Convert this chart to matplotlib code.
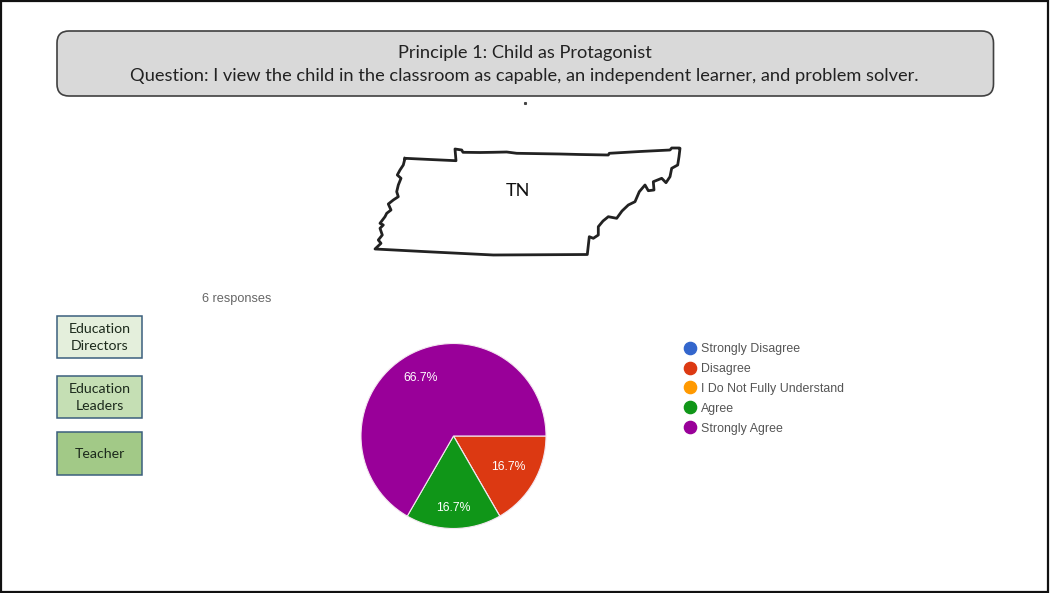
#!/usr/bin/env python3
'Survey slide: Tennessee outline, respondent roles and a pie of answers'

import math

import matplotlib
matplotlib.use('Agg')
import matplotlib.pyplot as plt
import matplotlib.patches as patches
from matplotlib.lines import Line2D

W, H = 1050, 593

title_lines = ['Principle 1: Child as Protagonist',
               'Question: I view the child in the classroom as capable, an independent learner, and problem solver.']
responses_note = '6 responses'
state_label = 'TN'

answers = ['Strongly Disagree', 'Disagree', 'I Do Not Fully Understand', 'Agree', 'Strongly Agree']
answer_counts = [0, 1, 0, 1, 4]
answer_colors = ['#3366cc', '#dc3912', '#ff9900', '#109618', '#990099']

roles = ['Education\nDirectors', 'Education\nLeaders', 'Teacher']
role_colors = ['#e4efdc', '#c5dfb4', '#a2c987']

# state border, clockwise from the north-west corner
outline_x = [405, 430, 456, 455, 461.7, 463, 480, 493, 506.7, 516.7, 560, 580, 608.3, 609.3, 640, 670,
             671.7, 679.3, 680, 679, 677.7, 671.7, 670, 666, 661.7, 653.3, 654, 648.3, 645, 639.3,
             635, 628.3, 622, 616.7, 608.3, 603, 598.3, 598.3, 593.3, 589.3, 587.3,
             493.3, 426.7, 375, 381, 378.3, 382.3, 380, 383.3, 380, 385, 386.7, 391, 388.3, 393.3,
             398.3, 396.7, 398.3, 401, 397.3, 400, 403.3, 405]
outline_y = [158.3, 159.5, 160.7, 149, 150, 152.3, 152.5, 152.3, 152, 153.3, 154, 154.5, 155, 153.3, 151.5, 150,
             148, 148, 148.3, 156.7, 165, 168.3, 176.7, 182.7, 178.3, 181.7, 190, 190.7, 185, 191.7,
             201.7, 205, 211, 218.3, 216.7, 221, 226.7, 235, 238.3, 236.7, 254.5,
             255, 251.7, 249, 243.3, 240, 235, 228.3, 225, 223.3, 216.7, 213.3, 210, 204, 200,
             196.7, 191.7, 185, 178.3, 175, 170, 165, 158.3]

# how far out each percentage sits, per answer, as a share of the pie radius
label_radius = [0, 0.68, 0, 0.78, 0.72]


def pct_label(pct):
    # empty categories get no label
    return f'{pct:.1f}%' if pct > 0 else ''


def draw_slide(ax):
    # outer frame
    ax.add_patch(patches.Rectangle((1, 1), 1047, 590.5, facecolor='none', edgecolor='#111111', linewidth=1.6))

    # title banner
    ax.add_patch(patches.FancyBboxPatch((57, 31), 936.5, 65, boxstyle='round,pad=0,rounding_size=12',
                                        facecolor='#d9d9d9', edgecolor='#404040', linewidth=1.2))
    ax.text(525, 53, title_lines[0], ha='center', va='center', fontsize=13.15, family='Lato', color='#222222')
    ax.text(524, 75.5, title_lines[1], ha='center', va='center', fontsize=13.15, family='Lato', color='#222222')
    ax.plot([525], [103], marker='s', markersize=1.2, color='#444444')

    # state outline
    ax.plot(outline_x, outline_y, color='#222222', linewidth=2.0, solid_joinstyle='round')
    ax.text(517.5, 191.5, state_label, ha='center', va='center', fontsize=13, family='Lato', color='#111111')

    # role boxes
    tops = [316, 376, 432]
    heights = [42, 42, 43]
    for role, color, top, height in zip(roles, role_colors, tops, heights):
        ax.add_patch(patches.Rectangle((57, top), 85, height, facecolor=color, edgecolor='#3b5f7d', linewidth=1.1))
        ax.text(99.5, top + height / 2 + 0.5, role, ha='center', va='center', fontsize=10.2,
                family='Lato', color='#1c2a1c', linespacing=1.5)

    ax.text(202, 299, responses_note, ha='left', va='center', fontsize=9.2,
            family='Liberation Sans', color='#666666')


def draw_pie(fig):
    # pie centred at (453.5, 436), radius 92.5 px
    left, bottom = (453.5 - 100) / W, 1 - (436 + 100) / H
    ax = fig.add_axes([left, bottom, 200 / W, 200 / H])
    wedges, _, pcts = ax.pie(answer_counts, colors=answer_colors, startangle=0, counterclock=False,
                             radius=0.925, autopct=pct_label,
                             wedgeprops={'edgecolor': '#f4e6f0', 'linewidth': 0.8})
    ax.set_xlim(-1, 1)
    ax.set_ylim(-1, 1)
    for w, t, r in zip(wedges, pcts, label_radius):
        mid = math.radians((w.theta1 + w.theta2) / 2)
        t.set_position((0.925 * r * math.cos(mid), 0.925 * r * math.sin(mid)))
        t.set_color('white')
        t.set_fontsize(8.8)
        t.set_family('Liberation Sans')
    ax.patch.set_alpha(0)


def draw_legend(ax):
    handles = [Line2D([0], [0], linestyle='none', marker='o', markersize=8.8, color=c) for c in answer_colors]
    ax.legend(handles, answers, loc='upper left', bbox_to_anchor=(680 / W, 1 - 343 / H), frameon=False,
              prop={'family': 'Liberation Sans', 'size': 8.95}, labelcolor='#555555', labelspacing=0.635,
              handletextpad=0.1, handlelength=1.6, borderpad=0, borderaxespad=0)


def main():
    fig = plt.figure(figsize=(W / 100, H / 100), dpi=100, facecolor='white')
    ax = fig.add_axes([0, 0, 1, 1])
    ax.set_xlim(0, W)
    ax.set_ylim(H, 0)
    ax.axis('off')

    draw_slide(ax)
    draw_legend(ax)
    draw_pie(fig)

    fig.savefig('out.png', dpi=100)
    plt.close(fig)


if __name__ == '__main__':
    main()
